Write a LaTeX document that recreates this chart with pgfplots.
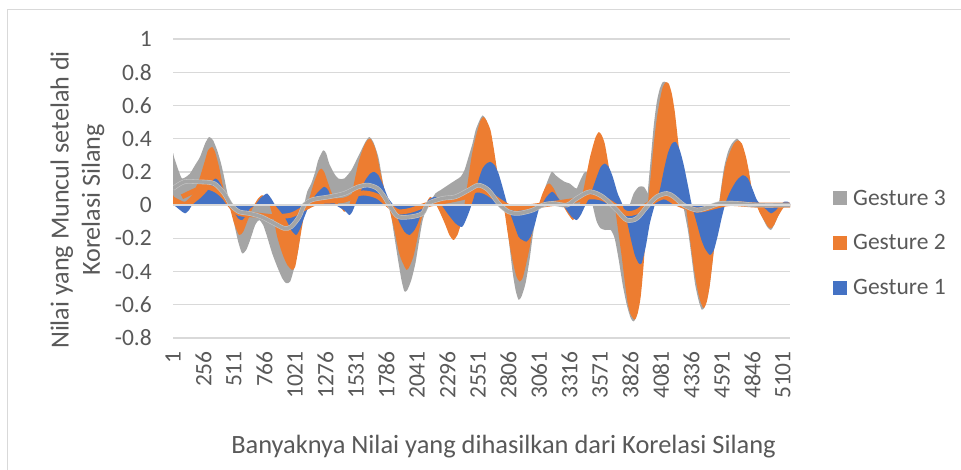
\documentclass[border=0pt]{standalone}
\usepackage{fontspec}
\setmainfont{Carlito}
\usepackage{pgfplots}
\pgfplotsset{compat=1.18}
\definecolor{gOne}{HTML}{4472C4}
\definecolor{gTwo}{HTML}{ED7D31}
\definecolor{gThree}{HTML}{A5A5A5}
\definecolor{gHalo}{HTML}{C4C4C4}
\definecolor{gridc}{HTML}{D9D9D9}
\definecolor{txt}{HTML}{595959}
\begin{document}
\begin{tikzpicture}[x=1pt,y=1pt]
\useasboundingbox (0,0) rectangle (961,470);
\draw[color=gridc, line width=1pt] (7.5,0) -- (7.5,460.5) -- (961,460.5);
\begin{axis}[
  at={(173pt,132pt)}, anchor=south west,
  width=617pt, height=299pt, scale only axis,
  xmin=1, xmax=5160, ymin=-0.8, ymax=1,
  axis line style={draw=none},
  major tick length=0pt,
  ytick={-0.8,-0.6,-0.4,-0.2,0,0.2,0.4,0.6,0.8,1},
  yticklabels={-0.8,-0.6,-0.4,-0.2,0,0.2,0.4,0.6,0.8,1},
  ymajorgrids, grid style={color=gridc, line width=1.3pt},
  xtick={1,256,511,766,1021,1276,1531,1786,2041,2296,2551,2806,3061,3316,3571,3826,4081,4336,4591,4846,5101},
  xticklabels={1,256,511,766,1021,1276,1531,1786,2041,2296,2551,2806,3061,3316,3571,3826,4081,4336,4591,4846,5101},
  scaled x ticks=false, scaled y ticks=false,
  tick label style={font=\fontsize{23.5}{28}\selectfont, text=txt},
  yticklabel style={inner sep=0pt}, yticklabel shift=21pt,
  xticklabel style={rotate=90, anchor=east, inner sep=0pt}, xticklabel shift=13pt,
  legend image code/.code={\path[#1] (0pt,-7pt) rectangle (14pt,7pt);},
  legend style={at={(1.0697,0.3177)}, anchor=west, draw=none, fill=none, inner sep=0pt,
    row sep=28pt, font=\fontsize{23.5}{28}\selectfont,
    nodes={inner xsep=6pt, inner ysep=0pt, text=txt}},
  legend cell align=left,
]
% Gesture 3 (gray) main area
\addplot[fill=gThree, draw=none, forget plot, smooth, tension=0.4] coordinates {
(1,0)(1,0.30)(9,0.29)(51,0.20)(76,0.16)(110,0.17)(143,0.19)(185,0.24)(227,0.29)(269,0.37)(303,0.41)(336,0.39)(370,0.33)(403,0.25)(428,0.17)(453,0.08)(478,0.0)
(512,-0.11)(546,-0.22)(579,-0.29)(613,-0.27)(646,-0.21)(688,-0.12)(721,-0.09)(755,-0.12)(788,-0.19)(830,-0.29)(872,-0.37)(914,-0.44)(947,-0.47)(981,-0.46)(1014,-0.38)(1048,-0.27)(1073,-0.13)(1098,0.0)
(1123,0.08)(1157,0.13)(1190,0.20)(1215,0.27)(1257,0.33)(1282,0.31)(1307,0.25)(1349,0.19)(1383,0.16)(1433,0.16)(1492,0.21)(1534,0.27)(1575,0.33)(1609,0.38)(1643,0.41)(1676,0.38)(1718,0.29)(1743,0.19)(1768,0.09)(1810,0.0)
(1852,-0.19)(1885,-0.34)(1911,-0.45)(1936,-0.52)(1961,-0.51)(1994,-0.45)(2028,-0.35)(2053,-0.24)(2086,-0.10)(2120,-0.02)(2153,0.02)(2195,0.07)(2237,0.09)(2279,0.11)(2321,0.13)(2363,0.15)(2405,0.17)(2438,0.21)(2472,0.29)(2505,0.37)(2531,0.45)(2564,0.51)(2589,0.54)(2614,0.52)(2639,0.47)(2673,0.36)(2706,0.22)(2740,0.10)(2773,0.0)
(2807,-0.20)(2840,-0.40)(2865,-0.51)(2890,-0.57)(2915,-0.55)(2949,-0.47)(2982,-0.33)(3008,-0.19)(3033,-0.08)(3058,-0.01)(3091,0.06)(3125,0.13)(3167,0.20)(3200,0.18)(3234,0.16)(3276,0.14)(3318,0.13)(3351,0.11)(3376,0.10)(3401,0.14)(3435,0.19)(3460,0.20)(3485,0.12)(3510,0.0)
(3544,-0.10)(3577,-0.14)(3619,-0.15)(3661,-0.15)(3694,-0.20)(3728,-0.33)(3761,-0.48)(3795,-0.60)(3828,-0.68)(3853,-0.70)(3879,-0.66)(3904,-0.52)(3929,-0.32)(3954,-0.10)(3971,0.08)(3996,0.28)(4021,0.48)(4046,0.62)(4071,0.70)(4096,0.74)(4122,0.74)(4147,0.70)(4172,0.60)(4197,0.45)(4222,0.28)(4247,0.10)(4272,-0.02)
(4306,-0.15)(4331,-0.28)(4365,-0.47)(4398,-0.58)(4423,-0.63)(4448,-0.61)(4482,-0.51)(4515,-0.32)(4549,-0.10)(4574,0.05)(4607,0.22)(4641,0.32)(4674,0.37)(4716,0.40)(4750,0.37)(4783,0.30)(4817,0.18)(4850,0.07)(4884,0.0)(4926,-0.07)(4968,-0.13)(5001,-0.15)(5034,-0.11)(5076,-0.04)(5118,0.0)(5160,0.0)
} \closedcycle;
\addplot[fill=gThree, draw=none, forget plot, smooth, tension=0.4] coordinates {
(3820,0)(3853,0.07)(3895,0.11)(3937,0.11)(3971,0.07)(3996,0)
} \closedcycle;
% Gesture 2 (orange) main area
\addplot[fill=gTwo, draw=none, forget plot, smooth, tension=0.4] coordinates {
(1,0)(1,0.06)(9,0.05)(60,0.03)(102,0.02)(160,0.06)(194,0.11)(227,0.17)(269,0.27)(294,0.33)(328,0.35)(353,0.32)(386,0.23)(411,0.14)(436,0.06)(470,0.0)
(512,-0.11)(554,-0.18)(588,-0.16)(621,-0.10)(654,-0.04)(679,0.0)(713,0.04)(746,0.06)(780,0.04)(813,-0.01)(847,-0.10)(872,-0.19)(914,-0.29)(956,-0.36)(997,-0.39)(1023,-0.37)(1048,-0.27)(1073,-0.16)(1098,-0.06)
(1132,0.02)(1157,0.08)(1182,0.14)(1215,0.20)(1240,0.22)(1265,0.20)(1299,0.13)(1341,0.05)(1391,0.0)(1433,-0.04)(1467,-0.02)(1492,0.05)(1517,0.14)(1550,0.25)(1575,0.31)(1601,0.36)(1626,0.39)(1651,0.40)(1676,0.37)(1701,0.32)(1735,0.20)(1760,0.12)(1802,0.0)
(1852,-0.15)(1885,-0.27)(1911,-0.33)(1953,-0.39)(1978,-0.37)(2011,-0.31)(2036,-0.23)(2070,-0.11)(2112,0.0)(2153,0.05)(2195,0.01)(2237,-0.05)(2279,-0.12)(2312,-0.18)(2346,-0.21)(2379,-0.18)(2413,-0.10)
(2446,0.04)(2472,0.17)(2497,0.29)(2522,0.38)(2547,0.45)(2572,0.51)(2597,0.53)(2622,0.51)(2656,0.45)(2681,0.35)(2715,0.19)(2740,0.08)(2765,0.0)
(2798,-0.16)(2823,-0.27)(2848,-0.36)(2873,-0.43)(2899,-0.46)(2924,-0.44)(2949,-0.37)(2982,-0.26)(3008,-0.15)(3033,-0.06)(3058,0.0)
(3091,0.07)(3125,0.12)(3150,0.13)(3184,0.10)(3217,0.05)(3259,0.0)(3301,-0.05)(3343,-0.09)(3368,-0.07)(3401,0.0)
(3435,0.10)(3460,0.19)(3485,0.28)(3510,0.35)(3535,0.41)(3561,0.44)(3586,0.42)(3611,0.37)(3636,0.27)(3661,0.16)(3694,0.0)
(3728,-0.18)(3753,-0.31)(3778,-0.46)(3803,-0.59)(3828,-0.66)(3862,-0.69)(3887,-0.65)(3912,-0.55)(3937,-0.35)(3971,0.0)
(3996,0.18)(4021,0.37)(4046,0.52)(4071,0.63)(4096,0.71)(4122,0.74)(4147,0.73)(4172,0.67)(4197,0.56)(4222,0.40)(4256,0.19)(4289,0.0)
(4323,-0.20)(4356,-0.38)(4390,-0.52)(4415,-0.59)(4440,-0.62)(4465,-0.58)(4490,-0.48)(4524,-0.27)(4549,-0.10)
(4574,0.04)(4599,0.16)(4624,0.25)(4658,0.32)(4691,0.37)(4724,0.39)(4758,0.37)(4792,0.29)(4817,0.20)(4842,0.09)(4875,0.01)
(4909,-0.05)(4942,-0.09)(4976,-0.13)(5001,-0.14)(5026,-0.12)(5059,-0.07)(5101,-0.02)(5135,0.0)(5160,0.0)
} \closedcycle;
% Gesture 1 (blue) main area
\addplot[fill=gOne, draw=none, forget plot, smooth, tension=0.4] coordinates {
(1,0.0)(9,0.0)(60,-0.03)(102,-0.05)(135,-0.03)(160,0.0)(227,0.04)(269,0.07)(303,0.10)(328,0.14)(353,0.16)(378,0.15)(411,0.11)(445,0.05)(478,0.0)
(512,-0.04)(546,-0.08)(579,-0.09)(613,-0.06)(646,-0.02)(688,0.0)(730,0.04)(763,0.06)(788,0.07)(822,0.04)(855,0.0)
(889,-0.03)(922,-0.06)(956,-0.10)(989,-0.15)(1031,-0.18)(1065,-0.14)(1090,-0.09)(1140,0.0)
(1182,0.05)(1215,0.08)(1265,0.11)(1299,0.09)(1332,0.03)(1383,-0.01)(1433,-0.03)(1475,-0.06)(1500,-0.04)(1534,0.02)
(1575,0.09)(1609,0.15)(1651,0.19)(1684,0.20)(1718,0.18)(1752,0.13)(1802,0.04)(1844,0.0)
(1885,-0.09)(1936,-0.16)(1978,-0.18)(2020,-0.15)(2053,-0.10)(2086,-0.03)(2137,0.03)(2195,0.05)(2237,0.01)
(2296,-0.05)(2363,-0.11)(2421,-0.13)(2472,-0.05)(2514,0.04)(2555,0.15)(2589,0.22)(2622,0.25)(2656,0.26)(2690,0.24)(2723,0.19)(2756,0.11)(2798,0.0)
(2840,-0.09)(2890,-0.19)(2924,-0.21)(2957,-0.22)(2991,-0.19)(3025,-0.12)(3058,-0.03)(3091,0.01)(3125,0.05)(3175,0.08)(3234,0.03)
(3293,-0.03)(3334,-0.07)(3376,-0.09)(3410,-0.06)(3443,-0.01)(3485,0.05)(3544,0.17)(3577,0.23)(3611,0.25)(3644,0.23)(3678,0.17)(3719,0.07)(3761,0.0)
(3795,-0.09)(3828,-0.20)(3862,-0.30)(3895,-0.35)(3920,-0.35)(3954,-0.25)(3988,-0.11)(4029,0.0)
(4071,0.09)(4105,0.21)(4138,0.31)(4172,0.37)(4205,0.38)(4239,0.33)(4272,0.24)(4306,0.12)(4339,0.0)
(4381,-0.11)(4415,-0.20)(4448,-0.26)(4490,-0.30)(4524,-0.27)(4557,-0.18)(4591,-0.07)(4624,0.02)
(4666,0.09)(4716,0.15)(4766,0.18)(4808,0.16)(4850,0.09)(4884,0.03)(4934,-0.01)(4968,-0.03)(5001,-0.05)(5043,-0.03)(5076,0.0)(5110,0.02)(5143,0.02)(5160,0.01)
} \closedcycle;
% Gesture 2 thin band
\addplot[draw=gTwo, line width=5pt, forget plot, smooth, tension=0.5] coordinates {
(76,0.05)(194,0.09)(277,0.11)(361,0.09)(428,0.05)(478,0.0)(554,-0.05)(705,-0.06)(847,-0.07)(989,-0.06)(1098,-0.02)(1224,0.02)(1433,0.03)(1550,0.07)(1634,0.07)(1718,0.05)(1802,0.0)(1885,-0.04)(1994,-0.03)(2112,0.0)(2254,0.02)(2446,0.05)(2531,0.09)(2614,0.08)(2698,0.04)(2782,0.0)(2865,-0.02)(2982,-0.01)(3376,0.03)(3485,0.05)(3594,0.04)(3711,-0.01)(3795,-0.05)(3879,-0.04)(3963,0.0)(4105,0.05)(4214,0.01)(4381,-0.03)(4524,-0.01)(4658,0.01)(4884,0.0)(5160,0.0)
};
% Gesture 3 thin band
\addplot[draw=gHalo, line width=4.6pt, forget plot, smooth, tension=0.5] coordinates {
(1,0.10)(93,0.14)(219,0.14)(344,0.13)(428,0.07)(487,0.0)(554,-0.04)(637,-0.05)(738,-0.07)(847,-0.11)(931,-0.14)(989,-0.13)(1056,-0.07)(1098,0.0)(1157,0.03)(1215,0.04)(1307,0.05)(1433,0.07)(1550,0.11)(1634,0.12)(1710,0.10)(1768,0.05)(1827,-0.02)(1885,-0.07)(1994,-0.07)(2086,-0.05)(2137,0.01)(2254,0.04)(2363,0.05)(2472,0.09)(2555,0.12)(2639,0.09)(2723,0.01)(2807,-0.04)(2890,-0.05)(3008,-0.03)(3091,0.0)(3175,0.01)(3293,0.0)(3376,0.04)(3485,0.08)(3594,0.05)(3711,-0.03)(3795,-0.09)(3879,-0.08)(3963,-0.01)(4046,0.05)(4130,0.07)(4189,0.05)(4272,0.0)(4381,-0.03)(4490,-0.01)(4574,0.01)(4716,0.01)(4884,0.0)(5160,0.0)
};
\addplot[draw=gThree, line width=3.4pt, forget plot, smooth, tension=0.5] coordinates {
(1,0.10)(93,0.14)(219,0.14)(344,0.13)(428,0.07)(487,0.0)(554,-0.04)(637,-0.05)(738,-0.07)(847,-0.11)(931,-0.14)(989,-0.13)(1056,-0.07)(1098,0.0)(1157,0.03)(1215,0.04)(1307,0.05)(1433,0.07)(1550,0.11)(1634,0.12)(1710,0.10)(1768,0.05)(1827,-0.02)(1885,-0.07)(1994,-0.07)(2086,-0.05)(2137,0.01)(2254,0.04)(2363,0.05)(2472,0.09)(2555,0.12)(2639,0.09)(2723,0.01)(2807,-0.04)(2890,-0.05)(3008,-0.03)(3091,0.0)(3175,0.01)(3293,0.0)(3376,0.04)(3485,0.08)(3594,0.05)(3711,-0.03)(3795,-0.09)(3879,-0.08)(3963,-0.01)(4046,0.05)(4130,0.07)(4189,0.05)(4272,0.0)(4381,-0.03)(4490,-0.01)(4574,0.01)(4716,0.01)(4884,0.0)(5160,0.0)
};
\draw[color=gridc, line width=2pt] (axis cs:1,0) -- (axis cs:5160,0);
\addlegendimage{fill=gThree, draw=none}
\addlegendentry{Gesture 3}
\addlegendimage{fill=gTwo, draw=none}
\addlegendentry{Gesture 2}
\addlegendimage{fill=gOne, draw=none}
\addlegendentry{Gesture 1}
\end{axis}
\node[font=\fontsize{26.1}{31.3}\selectfont, text=txt, rotate=90, align=center] at (77.5,270) {Nilai yang Muncul setelah di\\Korelasi Silang};
\node[font=\fontsize{26.4}{31.3}\selectfont, text=txt] at (503.5,23) {Banyaknya Nilai yang dihasilkan dari Korelasi Silang};
\end{tikzpicture}
\end{document}
